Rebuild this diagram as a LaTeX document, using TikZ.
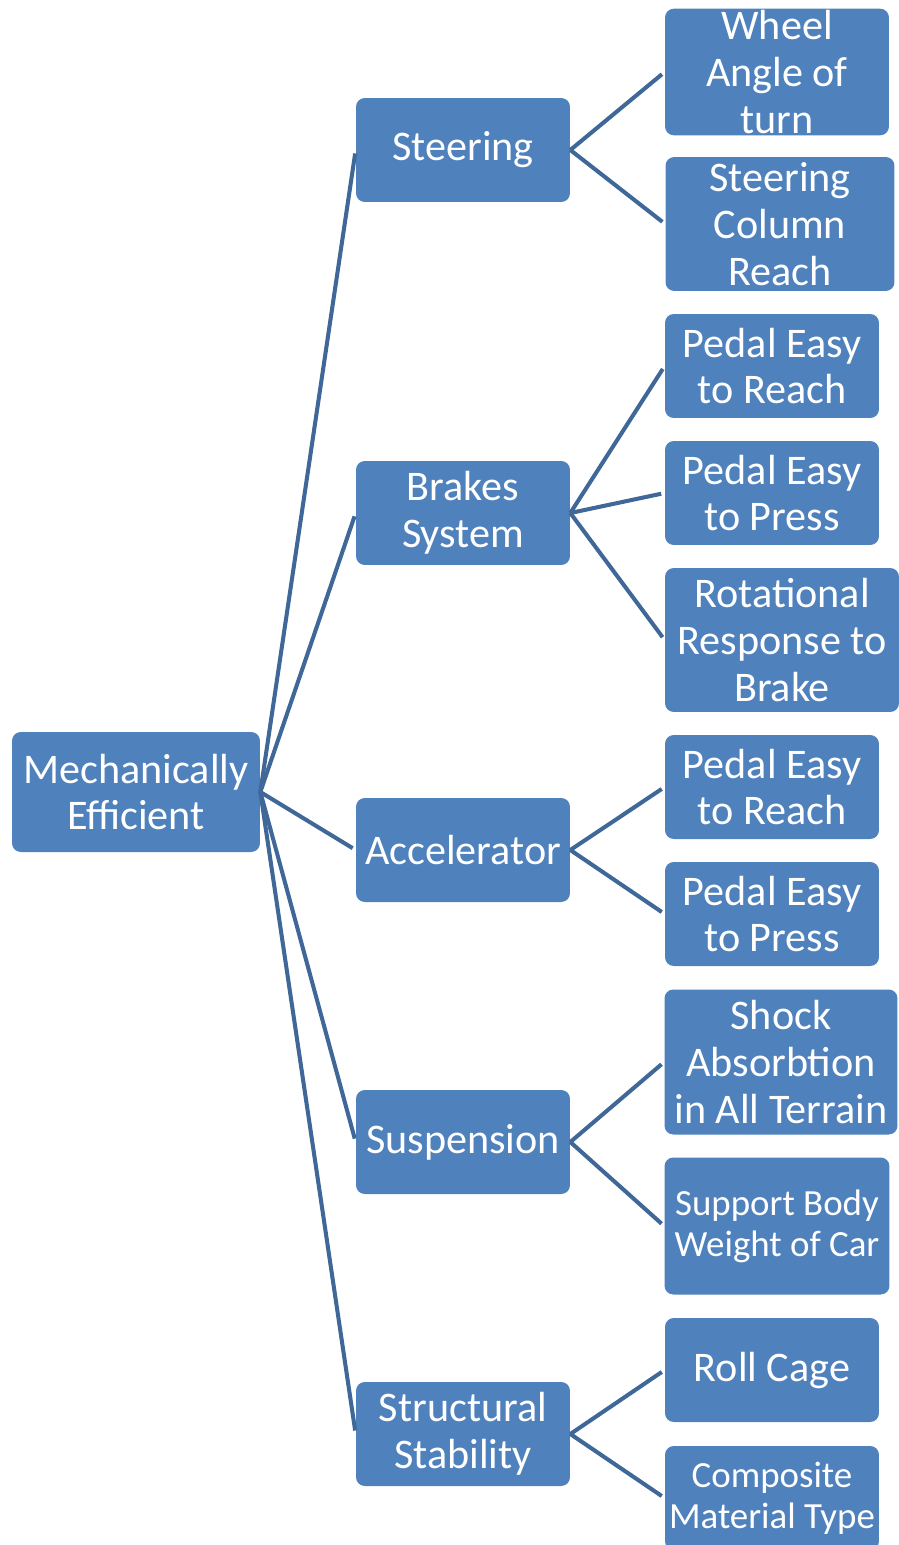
\documentclass[tikz,border=0pt]{standalone}
\usepackage{fontspec}
\setmainfont{Carlito}
\usetikzlibrary{positioning}

\definecolor{boxblue}{HTML}{4F81BD}
\definecolor{linkblue}{HTML}{3F6798}

\begin{document}
\begin{tikzpicture}[x=0.02cm, y=-0.02cm,
    box/.style={rectangle, rounded corners=5pt, fill=boxblue, text=white, align=center,
                font=\fontsize{24}{26.6}\selectfont, inner sep=1pt, minimum width=4.28cm, minimum height=2.08cm},
    smallbox/.style={box, font=\fontsize{21}{23.2}\selectfont},
    link/.style={linkblue, line width=2.3pt, shorten >=2pt}]
    \useasboundingbox (0,0) rectangle (899,1545);

    % Nodes
    \node (mech) [box, minimum width=4.96cm, minimum height=2.4cm] at (136,792) {Mechanically\\Efficient};

    \node (steering) [box] at (463,150) {Steering};
    \node (brakes) [box] at (463,513) {Brakes\\System};
    \node (accel) [box] at (463,850) {Accelerator};
    \node (suspension) [box] at (463,1142) {Suspension};
    \node (structure) [box] at (463,1434) {Structural\\Stability};

    \node (wheelangle) [box, minimum width=4.48cm, minimum height=2.48cm] at (777,72) {Wheel\\Angle of\\turn};
    \node (columnreach) [box, minimum width=4.58cm, minimum height=2.68cm] at (780,224) {Steering\\Column\\Reach};
    \node (brakereach) [box] at (772,366) {Pedal Easy\\to Reach};
    \node (brakepress) [box] at (772,493) {Pedal Easy\\to Press};
    \node (rotational) [box, minimum width=4.68cm, minimum height=2.88cm] at (782,640) {Rotational\\Response to\\Brake};
    \node (accelreach) [box] at (772,787) {Pedal Easy\\to Reach};
    \node (accelpress) [box] at (772,914) {Pedal Easy\\to Press};
    \node (shock) [box, minimum width=4.66cm, minimum height=2.9cm] at (781,1062) {Shock\\Absorbtion\\in All Terrain};
    \node (bodyweight) [smallbox, minimum width=4.5cm, minimum height=2.74cm] at (777,1226) {Support Body\\Weight of Car};
    \node (rollcage) [box] at (772,1370) {Roll Cage};
    \node (composite) [smallbox] at (772,1498) {Composite\\Material Type};

    % Links
    \foreach \child in {steering, brakes, accel, suspension, structure}
        \draw[link] (mech.east) -- (\child.west);

    \draw[link] (steering.east) -- (wheelangle.west);
    \draw[link] (steering.east) -- (columnreach.west);
    \draw[link] (brakes.east) -- (brakereach.west);
    \draw[link] (brakes.east) -- (brakepress.west);
    \draw[link] (brakes.east) -- (rotational.west);
    \draw[link] (accel.east) -- (accelreach.west);
    \draw[link] (accel.east) -- (accelpress.west);
    \draw[link] (suspension.east) -- (shock.west);
    \draw[link] (suspension.east) -- (bodyweight.west);
    \draw[link] (structure.east) -- (rollcage.west);
    \draw[link] (structure.east) -- (composite.west);
\end{tikzpicture}
\end{document}
